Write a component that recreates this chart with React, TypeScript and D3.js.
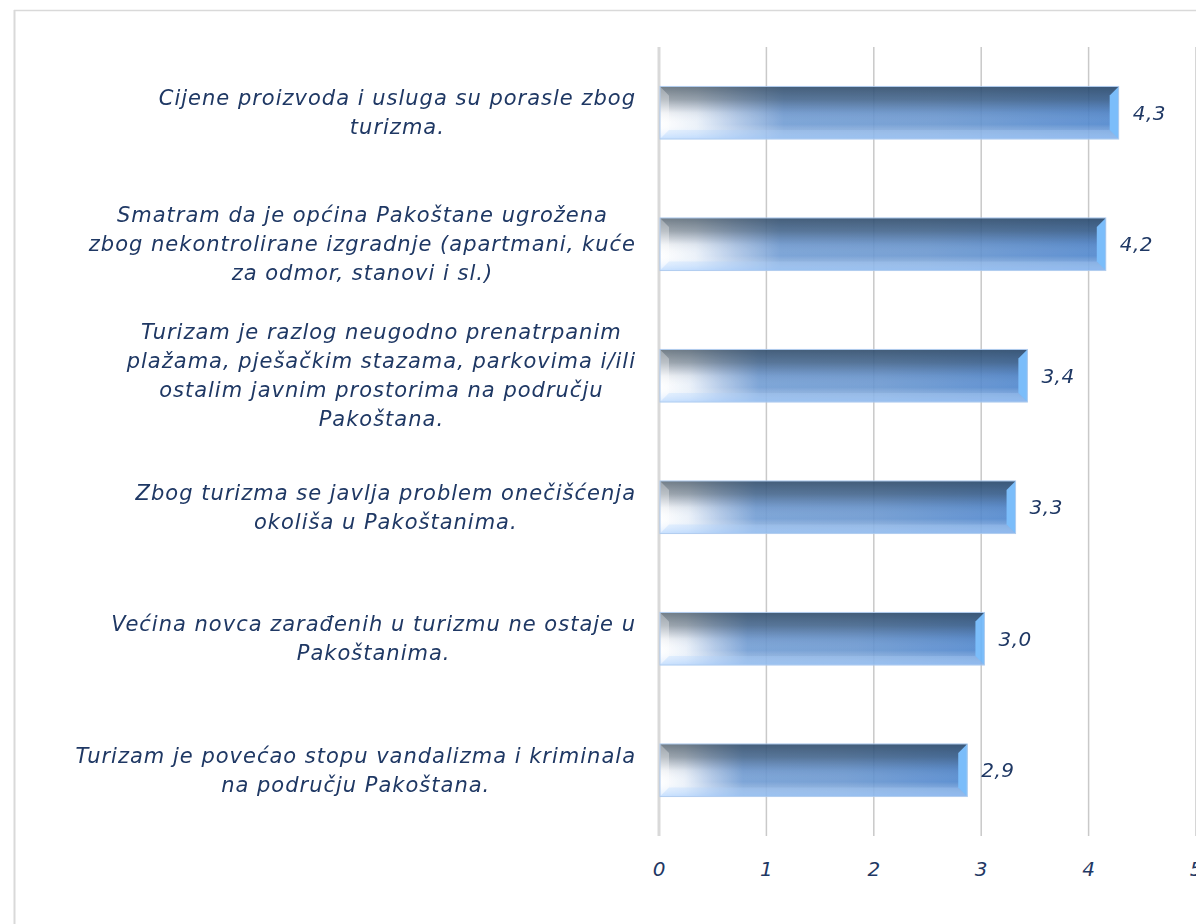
import React, { useEffect, useRef } from 'react';
import * as d3 from 'd3';

// categories, top to bottom, with the line breaks used in the picture
const categories = [
  'Cijene proizvoda i usluga su porasle zbog\nturizma.',
  'Smatram da je općina Pakoštane ugrožena\nzbog nekontrolirane izgradnje (apartmani, kuće\nza odmor, stanovi i sl.)',
  'Turizam je razlog neugodno prenatrpanim\nplažama, pješačkim stazama, parkovima i/ili\nostalim javnim prostorima na području\nPakoštana.',
  'Zbog turizma se javlja problem onečišćenja\nokoliša u Pakoštanima.',
  'Većina novca zarađenih u turizmu ne ostaje u\nPakoštanima.',
  'Turizam je povećao stopu vandalizma i kriminala\nna području Pakoštana.',
];
const values = [4.28, 4.16, 3.43, 3.32, 3.03, 2.87];
const ticks = [0, 1, 2, 3, 4, 5];

const W = 1196;
const H = 924;
const textColor = '#1f3864';
const font = '"DejaVu Sans", sans-serif';

export default () => {
  const svgRef = useRef<SVGSVGElement>(null);

  useEffect(() => {
    if (!svgRef.current) return;
    const svg = d3.select(svgRef.current);
    svg.selectAll('*').remove();

    const x = d3.scaleLinear().domain([0, 5]).range([659, 1196]);
    const y = d3.scaleBand<string>()
      .domain(categories)
      .range([47, 836])
      .paddingInner(0.6)
      .paddingOuter(0.3);

    const defs = svg.append('defs');
    const hg = defs.append('linearGradient').attr('id', 'hgrad')
      .attr('x1', 0).attr('x2', 1).attr('y1', 0).attr('y2', 0);
    [[0, '#ffffff'], [0.08, '#e9f0f9'], [0.17, '#abc4e6'], [0.27, '#6f9bd3'], [0.6, '#6896d0'], [1, '#4c84cc']]
      .forEach(([o, c]) => hg.append('stop').attr('offset', o).attr('stop-color', c));
    const vg = defs.append('linearGradient').attr('id', 'vgrad')
      .attr('x1', 0).attr('x2', 0).attr('y1', 0).attr('y2', 1);
    [[0, '#0e2233', 0.65], [0.25, '#14283a', 0.45], [0.5, '#1a3050', 0.08], [0.72, '#ffffff', 0.0], [1, '#9cc8ff', 0.55]]
      .forEach(([o, c, a]) => vg.append('stop').attr('offset', o).attr('stop-color', c).attr('stop-opacity', a));

    // chart frame
    svg.append('line').attr('x1', 14).attr('x2', W).attr('y1', 10.5).attr('y2', 10.5)
      .attr('stroke', '#d9d9d9').attr('stroke-width', 1.5);
    svg.append('line').attr('x1', 14.5).attr('x2', 14.5).attr('y1', 10).attr('y2', H)
      .attr('stroke', '#d9d9d9').attr('stroke-width', 2);

    // gridlines
    svg.append('g').selectAll('line').data(ticks).enter().append('line')
      .attr('x1', d => x(d)).attr('x2', d => x(d))
      .attr('y1', 47).attr('y2', 836)
      .attr('stroke', d => (d === 0 ? '#d9d9d9' : '#c9c9c9'))
      .attr('stroke-width', d => (d === 0 ? 3 : 1.5));

    // tick labels
    svg.append('g').selectAll('text').data(ticks).enter().append('text')
      .attr('x', d => x(d)).attr('y', 876)
      .attr('text-anchor', 'middle')
      .attr('font-family', font).attr('font-style', 'italic').attr('font-size', 20)
      .attr('fill', textColor)
      .text(d => String(d));

    // bars (slightly see-through, gridlines show behind them)
    const bw = y.bandwidth();
    const bev = 9;
    const bars = svg.append('g').attr('opacity', 0.9)
      .selectAll('g').data(values).enter().append('g')
      .attr('transform', (d, i) => `translate(${x(0) + 1}, ${y(categories[i])})`);

    bars.append('rect')
      .attr('width', d => x(d) - x(0) - 1).attr('height', bw)
      .attr('fill', 'url(#hgrad)');
    bars.append('rect')
      .attr('width', d => x(d) - x(0) - 1).attr('height', bw)
      .attr('fill', 'url(#vgrad)');
    // right bevel facet
    bars.append('polygon')
      .attr('points', d => {
        const w = x(d) - x(0) - 1;
        return `${w - bev},${bev} ${w},0 ${w},${bw} ${w - bev},${bw - bev}`;
      })
      .attr('fill', '#6cb6fa');
    // left bevel facet
    bars.append('polygon')
      .attr('points', `0,0 ${bev},${bev} ${bev},${bw - bev} 0,${bw}`)
      .attr('fill', '#ffffff').attr('opacity', 0.3);
    // bottom bevel highlight
    bars.append('polygon')
      .attr('points', d => {
        const w = x(d) - x(0) - 1;
        return `0,${bw} ${bev},${bw - bev} ${w - bev},${bw - bev} ${w},${bw}`;
      })
      .attr('fill', '#a8d0ff').attr('opacity', 0.25);
    bars.append('rect')
      .attr('width', d => x(d) - x(0) - 1).attr('height', bw)
      .attr('fill', 'none').attr('stroke', '#a9c8ee').attr('stroke-width', 1);

    // value labels
    svg.append('g').selectAll('text').data(values).enter().append('text')
      .attr('x', d => x(d) + 14)
      .attr('y', (d, i) => (y(categories[i]) as number) + bw / 2 + 7)
      .attr('font-family', font).attr('font-style', 'italic').attr('font-size', 20)
      .attr('letter-spacing', 0.5)
      .attr('fill', textColor)
      .text(d => d.toFixed(1).replace('.', ','));

    // category labels: lines centered in a block right-aligned to the axis
    const lh = 29;
    categories.forEach(c => {
      const lines = c.split('\n');
      const cy = (y(c) as number) + bw / 2;
      const t = svg.append('text')
        .attr('font-family', font).attr('font-style', 'italic').attr('font-size', 21)
        .attr('letter-spacing', 1)
        .attr('fill', textColor).attr('text-anchor', 'middle');
      const spans = lines.map((l, j) => t.append('tspan')
        .attr('y', cy + (j - (lines.length - 1) / 2) * lh + 7)
        .text(l));
      const maxW = d3.max(spans, s => (s.node() as SVGTSpanElement).getComputedTextLength()) || 0;
      spans.forEach(s => s.attr('x', 636 - maxW / 2));
    });
  }, []);

  return (
    <svg
      ref={svgRef}
      width={W}
      height={H}
      style={{ position: 'absolute', left: 0, top: 0, background: '#fff' }}
    />
  );
};
